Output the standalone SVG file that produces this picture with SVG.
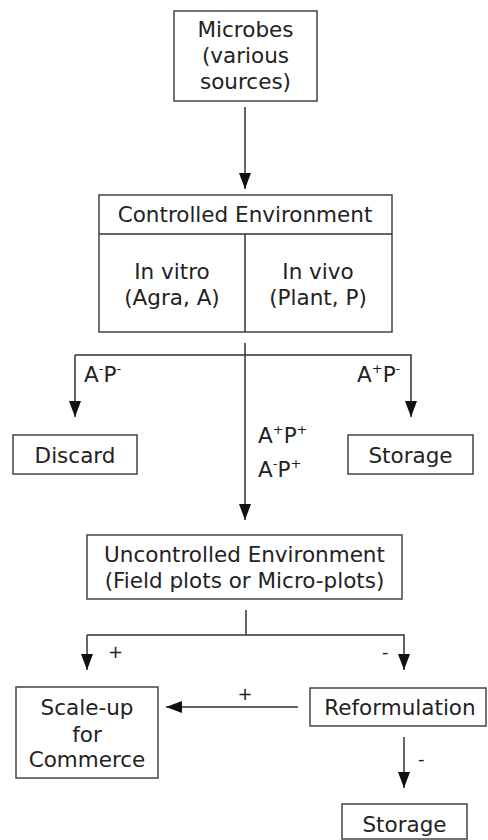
<svg xmlns="http://www.w3.org/2000/svg" width="488" height="840" viewBox="0 0 488 840">
<style>
.box{fill:#fff;stroke:#444;stroke-width:1.5}
.ln{fill:none;stroke:#333;stroke-width:1.5}
text{font-family:"DejaVu Sans",Verdana,sans-serif;font-size:21.5px;fill:#222}
.c{text-anchor:middle}
.sup{font-size:13px}
.sm{font-size:18px}
</style>
<defs>
<marker id="ah" markerWidth="16" markerHeight="12" refX="16" refY="6" orient="auto" markerUnits="userSpaceOnUse" viewBox="0 0 16 12">
<path d="M0,0 L16,6 L0,12 Z" fill="#111"/>
</marker>
</defs>
<rect width="488" height="840" fill="#fff"/>
<g id="microbes">
<rect class="box" x="174" y="11" width="143" height="90"/>
<text class="c" x="245.5" y="37">Microbes</text>
<text class="c" x="245.5" y="63">(various</text>
<text class="c" x="245.5" y="89">sources)</text>
</g>
<g id="controlled">
<rect class="box" x="99" y="195" width="293" height="137"/>
<line class="ln" x1="99" y1="234" x2="392" y2="234"/>
<line class="ln" x1="245" y1="234" x2="245" y2="332"/>
<text class="c" x="245" y="222">Controlled Environment</text>
<text class="c" x="172" y="279">In vitro</text>
<text class="c" x="172" y="305">(Agra, A)</text>
<text class="c" x="318" y="279">In vivo</text>
<text class="c" x="318" y="305">(Plant, P)</text>
</g>
<g id="discard">
<rect class="box" x="13" y="435" width="124" height="39"/>
<text class="c" x="75" y="463">Discard</text>
</g>
<g id="storage1">
<rect class="box" x="348" y="435" width="125" height="39"/>
<text class="c" x="410.5" y="463">Storage</text>
</g>
<g id="uncontrolled">
<rect class="box" x="87" y="535" width="315" height="64"/>
<text class="c" x="244.5" y="562">Uncontrolled Environment</text>
<text class="c" x="244.5" y="588">(Field plots or Micro-plots)</text>
</g>
<g id="scaleup">
<rect class="box" x="16" y="687" width="142" height="91"/>
<text class="c" x="87" y="715">Scale-up</text>
<text class="c" x="87" y="742">for</text>
<text class="c" x="87" y="767">Commerce</text>
</g>
<g id="reformulation">
<rect class="box" x="310" y="688" width="176" height="38"/>
<text class="c" x="400" y="715">Reformulation</text>
</g>
<g id="storage2">
<rect class="box" x="342" y="804" width="125" height="35"/>
<text class="c" x="404.5" y="832">Storage</text>
</g>
<g id="connectors">
<line class="ln" x1="245" y1="107" x2="245" y2="189" marker-end="url(#ah)"/>
<line class="ln" x1="245" y1="343" x2="245" y2="520" marker-end="url(#ah)"/>
<polyline class="ln" points="75,355 411,355 411,417" marker-end="url(#ah)"/>
<line class="ln" x1="75" y1="355" x2="75" y2="417" marker-end="url(#ah)"/>
<line class="ln" x1="246" y1="610" x2="246" y2="635"/>
<polyline class="ln" points="87,635 404,635 404,670" marker-end="url(#ah)"/>
<line class="ln" x1="87" y1="635" x2="87" y2="670" marker-end="url(#ah)"/>
<line class="ln" x1="298" y1="707" x2="166" y2="707" marker-end="url(#ah)"/>
<line class="ln" x1="404" y1="737" x2="404" y2="788" marker-end="url(#ah)"/>
<text x="84" y="382">A<tspan class="sup" dy="-9">-</tspan><tspan dy="9">P</tspan><tspan class="sup" dy="-9">-</tspan></text>
<text x="357" y="382">A<tspan class="sup" dy="-9">+</tspan><tspan dy="9">P</tspan><tspan class="sup" dy="-9">-</tspan></text>
<text x="258" y="443">A<tspan class="sup" dy="-9">+</tspan><tspan dy="9">P</tspan><tspan class="sup" dy="-9">+</tspan></text>
<text x="258" y="477">A<tspan class="sup" dy="-9">-</tspan><tspan dy="9">P</tspan><tspan class="sup" dy="-9">+</tspan></text>
<text class="sm" x="108" y="658">+</text>
<text class="sm" x="382" y="658">-</text>
<text class="sm c" x="245" y="700">+</text>
<text class="sm" x="418" y="765">-</text>
</g>
</svg>
